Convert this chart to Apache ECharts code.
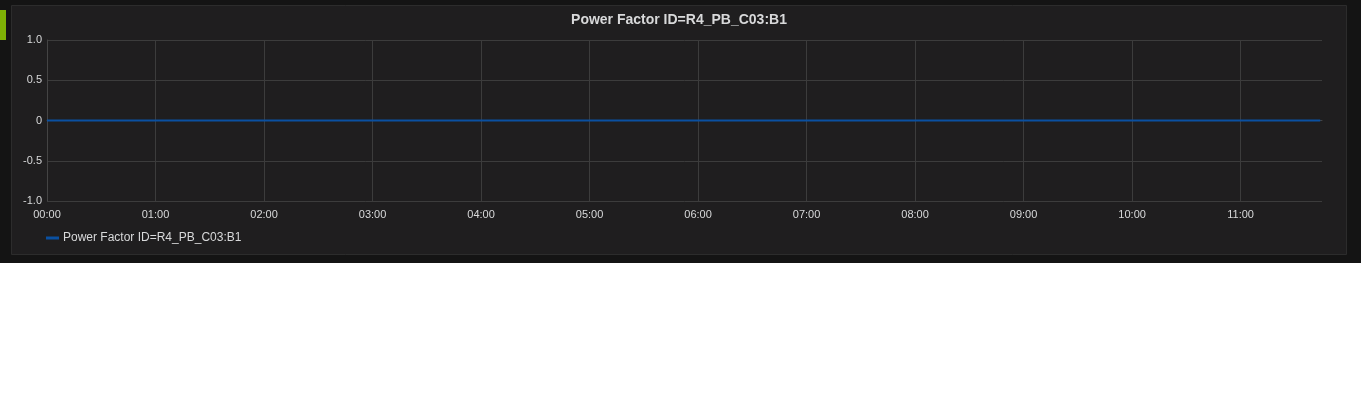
<!DOCTYPE html>
<html>
<head>
<meta charset="utf-8">
<script src="https://cdn.jsdelivr.net/npm/echarts@6/dist/echarts.min.js"></script>
<style>
html,body{margin:0;padding:0;background:#fff;}
#c{width:1366px;height:407px;}
</style>
</head>
<body>
<div id="c"></div>
<script>
const seriesName = 'Power Factor ID=R4_PB_C03:B1';
const titleText = 'Power Factor ID=R4_PB_C03:B1';
// time in minutes since 00:00
const times = [0, 60, 120, 180, 240, 300, 360, 420, 480, 540, 600, 660, 704];
const values = [0, 0, 0, 0, 0, 0, 0, 0, 0, 0, 0, 0, 0];
const yTickLabels = {'1': '1.0', '0.5': '0.5', '0': '0', '-0.5': '-0.5', '-1': '-1.0'};

function hhmm(m){
  const h = Math.floor(m/60), mm = m%60;
  return String(h).padStart(2,'0') + ':' + String(mm).padStart(2,'0');
}

const chart = echarts.init(document.getElementById('c'), null, {renderer:'canvas'});
const font = '"Liberation Sans", Arial, sans-serif';
chart.setOption({
  backgroundColor: '#ffffff',
  animation: false,
  graphic: [
    {type:'rect', z:-10, shape:{x:0,y:0,width:1361,height:263}, style:{fill:'#141414'}},
    {type:'rect', z:-9, shape:{x:11.5,y:5.5,width:1335,height:249}, style:{fill:'#1f1e1f', stroke:'#2c2c2c', lineWidth:1}},
    {type:'rect', z:-8, shape:{x:0,y:10,width:6,height:30}, style:{fill:'#7eb105'}}
  ],
  title: {
    text: titleText,
    left: 679, top: 13, textAlign: 'center', padding: 0,
    textStyle: {color:'#d8d9da', fontSize:14, fontWeight:'bold', fontFamily:font}
  },
  legend: {
    left: 46, top: 232, padding: 0,
    itemWidth: 13, itemHeight: 3, itemGap: 10,
    icon: 'rect',
    textStyle: {color:'#d8d9da', fontSize:12, fontFamily:font, padding:[0,0,0,-1]},
    data: [seriesName]
  },
  grid: {left:47, right:44, top:40, height:161, containLabel:false},
  xAxis: {
    type:'value', min:0, max:705, interval:60,
    axisLine:{show:true, lineStyle:{color:'#444444', width:1}},
    axisTick:{show:false},
    splitLine:{show:true, showMaxLine:false, lineStyle:{color:'#3c3c3c', width:1}},
    axisLabel:{color:'#d8d9da', fontSize:11, fontFamily:font, margin:8,
      formatter: v => hhmm(v), showMaxLabel:false}
  },
  yAxis: {
    type:'value', min:-1, max:1, interval:0.5,
    axisLine:{show:true, lineStyle:{color:'#444444', width:1}},
    axisTick:{show:false},
    splitLine:{show:true, lineStyle:{color:'#3c3c3c', width:1}},
    axisLabel:{color:'#d8d9da', fontSize:11, fontFamily:font, margin:5, padding:[2,0,0,0],
      formatter: v => yTickLabels[String(v)] ?? String(v)}
  },
  series: [{
    name: seriesName, type:'line', showSymbol:false,
    data: times.map((t,i)=>[t, values[i]]),
    lineStyle:{color:'#0a50a1', width:2},
    itemStyle:{color:'#0a50a1'}
  }]
});
</script>
</body>
</html>
